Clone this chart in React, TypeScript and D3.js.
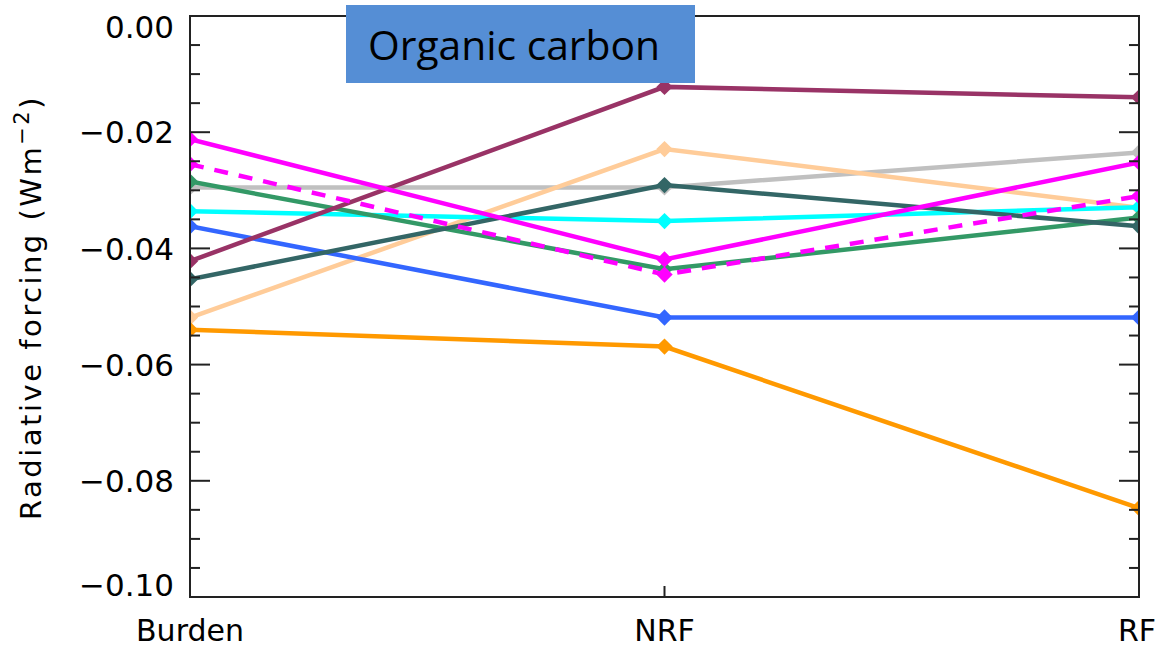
import React from "react";
import * as d3 from "d3";

const categories = ["Burden", "NRF", "RF"];
const yMajorTicks = [0, -0.02, -0.04, -0.06, -0.08, -0.1];
const yTickLabels = ["0.00", "\u22120.02", "\u22120.04", "\u22120.06", "\u22120.08", "\u22120.10"];
const titleText = "Organic carbon";

const grayVals = [-0.0295, -0.0295, -0.0235];
const peachVals = [-0.0519, -0.0229, -0.033];
const cyanVals = [-0.0336, -0.0353, -0.0329];
const blueVals = [-0.0362, -0.0519, -0.0519];
const greenVals = [-0.0285, -0.0436, -0.0347];
const tealVals = [-0.0453, -0.0291, -0.0362];
const maroonVals = [-0.0422, -0.0122, -0.014];
const orangeVals = [-0.054, -0.0569, -0.0847];
const magentaVals = [-0.0212, -0.0419, -0.0252];
const magentaDashVals = [-0.0255, -0.0445, -0.031];

const series = [
  { values: grayVals, color: "#C0C0C0", dashed: false },
  { values: peachVals, color: "#FFCC99", dashed: false },
  { values: cyanVals, color: "#00FFFF", dashed: false },
  { values: blueVals, color: "#3366FF", dashed: false },
  { values: greenVals, color: "#339966", dashed: false },
  { values: tealVals, color: "#336666", dashed: false },
  { values: maroonVals, color: "#993366", dashed: false },
  { values: orangeVals, color: "#FF9900", dashed: false },
  { values: magentaVals, color: "#FF00FF", dashed: false },
  { values: magentaDashVals, color: "#FF00FF", dashed: true },
];

const W = 1158;
const H = 649;
const left = 190;
const right = 1139;
const top = 16;
const bottom = 597;

export default function App() {
  const x = d3.scalePoint<string>().domain(categories).range([left, right]);
  const y = d3.scaleLinear().domain([-0.1, 0]).range([bottom, top]);
  const minorTicks = d3.range(0, 21).map((i) => -i * 0.005);
  const line = d3
    .line<number>()
    .x((_, i) => x(categories[i]) as number)
    .y((d) => y(d));
  const diamond = d3.symbol().type(d3.symbolDiamond2).size(170)() as string;
  const font = "'DejaVu Sans', sans-serif";

  return (
    <svg
      width={W}
      height={H}
      style={{ position: "absolute", left: 0, top: 0, background: "#fff" }}
    >
      <defs>
        <clipPath id="plotClip">
          <rect x={left} y={top} width={right - left} height={bottom - top} />
        </clipPath>
      </defs>
      <g clipPath="url(#plotClip)">
        {series.map((s, si) => (
          <g key={si}>
            <path
              d={line(s.values) as string}
              fill="none"
              stroke={s.color}
              strokeWidth={4.5}
              strokeDasharray={s.dashed ? "14 11" : undefined}
            />
            {s.values.map((v, i) => (
              <path
                key={i}
                d={diamond}
                transform={`translate(${x(categories[i])},${y(v)})`}
                fill={s.color}
              />
            ))}
          </g>
        ))}
      </g>
      {/* frame */}
      <rect
        x={left}
        y={top}
        width={right - left}
        height={bottom - top}
        fill="none"
        stroke="#222"
        strokeWidth={2}
      />
      {/* minor/major y ticks */}
      {minorTicks.map((t, i) => {
        const major = i % 4 === 0;
        const len = major ? 20 : 10;
        const yy = y(t);
        return (
          <g key={i} stroke="#222" strokeWidth={2}>
            <line x1={left} x2={left + len} y1={yy} y2={yy} />
            <line x1={right} x2={right - len} y1={yy} y2={yy} />
          </g>
        );
      })}
      {/* x ticks */}
      {categories.map((c, i) => (
        <g key={i} stroke="#222" strokeWidth={2}>
          <line x1={x(c)} x2={x(c)} y1={bottom} y2={bottom - 11} />
          <line x1={x(c)} x2={x(c)} y1={top} y2={top + 11} />
        </g>
      ))}
      {/* y tick labels */}
      {yMajorTicks.map((t, i) => (
        <text
          key={i}
          x={174}
          y={Math.min(Math.max(y(t), 27), 585)}
          dy="0.36em"
          textAnchor="end"
          fontFamily={font}
          fontSize={31}
          fill="#000"
        >
          {yTickLabels[i]}
        </text>
      ))}
      {/* x labels */}
      {categories.map((c, i) => (
        <text
          key={i}
          x={Math.min(x(c) as number, W - 21)}
          y={641}
          textAnchor="middle"
          fontFamily={font}
          fontSize={30}
          fill="#000"
        >
          {c}
        </text>
      ))}
      {/* y axis title */}
      <text
        transform={`translate(41,${(95 + 520) / 2}) rotate(-90)`}
        textAnchor="middle"
        fontFamily={font}
        fontSize={29}
        letterSpacing={2.5}
        fill="#000"
      >
        Radiative forcing (Wm
        <tspan dy={-12} fontSize={21}>
          {"\u22122"}
        </tspan>
        <tspan dy={12}>)</tspan>
      </text>
      {/* title box */}
      <rect x={346} y={5} width={349} height={78} fill="#558ED5" />
      <text
        x={368}
        y={60}
        fontFamily="'Open Sans', 'Noto Sans', sans-serif"
        fontSize={41}
        textLength={292}
        lengthAdjust="spacingAndGlyphs"
        fill="#000"
      >
        {titleText}
      </text>
    </svg>
  );
}
